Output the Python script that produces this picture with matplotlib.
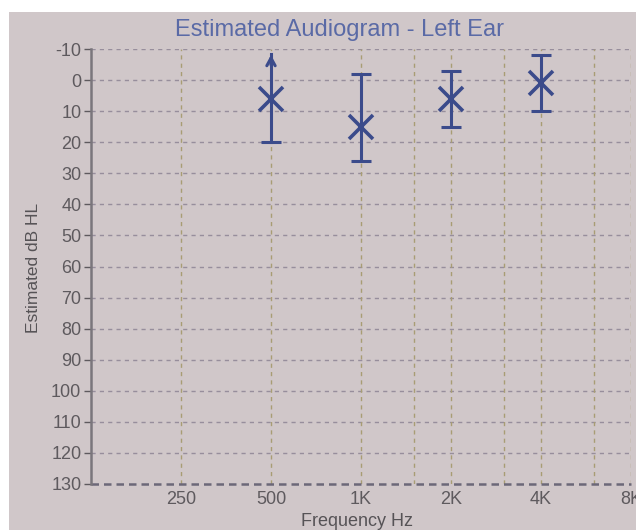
import numpy as np
import matplotlib
matplotlib.use('Agg')
import matplotlib.pyplot as plt
from matplotlib.patches import Rectangle

# estimated thresholds (left ear)
freqs = [500, 1000, 2000, 4000]
thresholds = [6, 15, 6, 1]
range_top = [-9, -2, -3, -8]
range_bottom = [20, 26, 15, 10]
open_top = [True, False, False, False]

tick_freqs = [250, 500, 1000, 2000, 4000, 8000]
tick_labels = ['250', '500', '1K', '2K', '4K', '8K']
minor_freqs = [1500, 3000, 6000]
db_ticks = list(range(-10, 131, 10))

bg = '#d0c7c9'
ink = '#3b4b8b'
grey = '#5e5a5e'

plt.rcParams['font.family'] = ['Liberation Sans', 'DejaVu Sans']
plt.rcParams['axes.unicode_minus'] = False

fig = plt.figure(figsize=(6.36, 5.30), dpi=100, facecolor=bg)
ax = fig.add_axes([0.1431, 0.0868, 0.8490, 0.8207])
ax.set_facecolor(bg)

# white scan border at top and left
fig.add_artist(Rectangle((0, 1 - 12 / 530), 1, 12 / 530, transform=fig.transFigure,
                         facecolor='white', edgecolor='none'))
fig.add_artist(Rectangle((0, 0), 9 / 636, 1, transform=fig.transFigure,
                         facecolor='white', edgecolor='none'))

ax.set_xscale('log', base=2)
ax.set_xlim(125, 8000)
ax.set_ylim(130, -10)

# dashed grid
for d in db_ticks[:-1]:
    ax.axhline(d, color='#978e9c', lw=1.0, ls=(0, (3, 3)), zorder=1)
ax.axhline(db_ticks[-1], color='#6c6878', lw=1.8, ls=(0, (3, 2)), zorder=2, clip_on=False)
for f in tick_freqs + minor_freqs:
    ax.axvline(f, color='#a89d74', lw=1.0, ls=(0, (3, 3)), zorder=1)

# thresholds with error ranges
for f, t, lo, hi, op in zip(freqs, thresholds, range_top, range_bottom, open_top):
    if op:
        ax.plot([f, f], [hi, lo + 0.5], color=ink, lw=2.2, zorder=3)
        ax.annotate('', xy=(f, lo), xytext=(f, lo + 5),
                    arrowprops=dict(arrowstyle='->, head_length=0.55, head_width=0.3',
                                    color=ink, lw=2.2), zorder=3)
        ax.plot([f], [hi], marker='_', ms=14, mew=2.2, color=ink, zorder=3)
    else:
        ax.errorbar([f], [t], yerr=[[t - lo], [hi - t]], fmt='none', ecolor=ink,
                    elinewidth=2.2, capsize=7, capthick=2.2, zorder=3)
    ax.plot([f], [t], marker='x', ms=17, mew=2.6, color=ink, linestyle='none', zorder=4)

ax.set_xticks(tick_freqs)
ax.set_xticklabels(tick_labels)
ax.xaxis.set_minor_locator(matplotlib.ticker.NullLocator())
ax.set_yticks(db_ticks)
ax.tick_params(axis='x', length=0, pad=5, labelsize=13, colors=grey)
ax.tick_params(axis='y', length=5, width=1, pad=2, labelsize=13, colors=grey)

for s in ['top', 'right', 'bottom']:
    ax.spines[s].set_visible(False)
ax.spines['left'].set_color('#7a767c')
ax.spines['left'].set_linewidth(1.8)

fig.text(339 / 636, 1 - 30 / 530, 'Estimated Audiogram - Left Ear', ha='center', va='center',
         fontsize=17, color='#5a6aa6')
fig.text(33 / 636, 1 - 268 / 530, 'Estimated dB HL', ha='center', va='center',
         rotation=90, fontsize=12.5, color='#565356')
fig.text(357 / 636, 1 - 521 / 530, 'Frequency Hz', ha='center', va='center',
         fontsize=13, color='#565356')

fig.savefig('out.png', dpi=100, facecolor=bg)
